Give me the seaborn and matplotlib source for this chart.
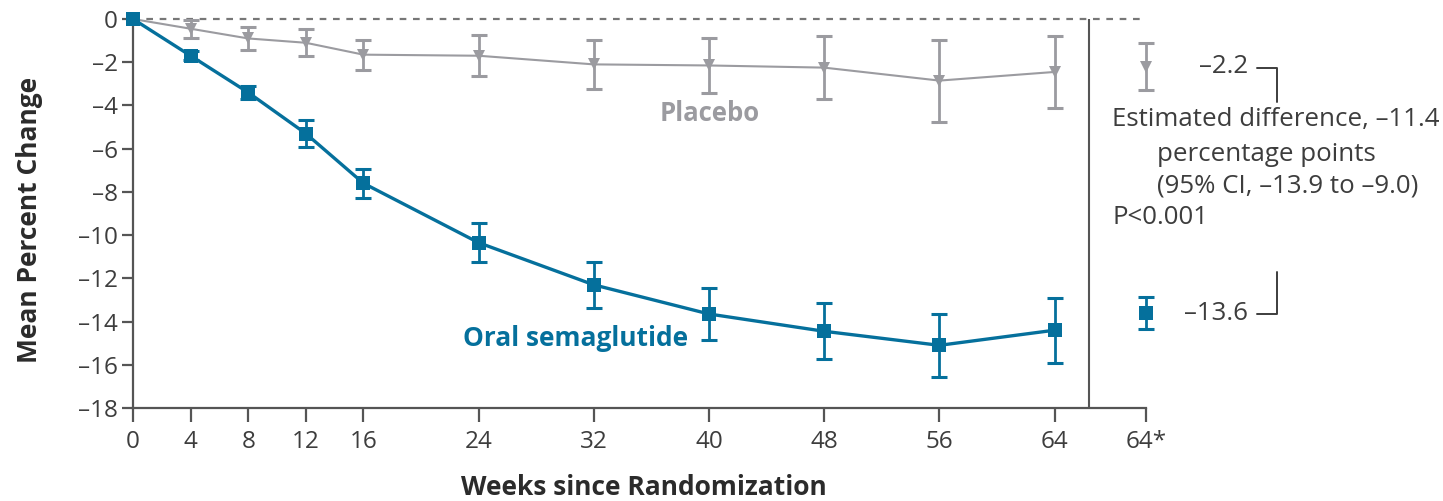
import numpy as np
import pandas as pd
import matplotlib
matplotlib.use("Agg")
import matplotlib.pyplot as plt
import seaborn as sns

# ---- data ----
weeks = [0, 4, 8, 12, 16, 24, 32, 40, 48, 56, 64]
sema_mean = [0, -1.7, -3.4, -5.3, -7.6, -10.35, -12.3, -13.65, -14.45, -15.1, -14.4]
sema_err = [0, 0.2, 0.3, 0.62, 0.67, 0.9, 1.07, 1.2, 1.3, 1.45, 1.5]
plac_mean = [0, -0.45, -0.9, -1.1, -1.65, -1.7, -2.1, -2.15, -2.25, -2.85, -2.45]
plac_err = [0, 0.42, 0.52, 0.63, 0.7, 0.95, 1.12, 1.26, 1.45, 1.9, 1.65]
est_labels = ["Oral semaglutide", "Placebo"]
est_mean = [-13.6, -2.2]
est_err = [0.73, 1.07]
xtick_vals = [0, 4, 8, 12, 16, 24, 32, 40, 48, 56, 64]
xtick_labels = ["0", "4", "8", "12", "16", "24", "32", "40", "48", "56", "64"]
star_label = "64*"
ytick_vals = [0, -2, -4, -6, -8, -10, -12, -14, -16, -18]

BLUE = "#05709c"
GRAY = "#9b9ba0"
AX = "#555555"
TXT = "#3d3d3d"
FONT = "Open Sans"
DASH = "\u2013"

sns.set_theme(style="ticks")
plt.rcParams["font.family"] = [FONT, "DejaVu Sans"]

df = pd.DataFrame({
    "week": weeks * 2,
    "change": sema_mean + plac_mean,
    "err": sema_err + plac_err,
    "group": ["Oral semaglutide"] * len(weeks) + ["Placebo"] * len(weeks),
})
est_df = pd.DataFrame({"group": est_labels, "change": est_mean, "err": est_err})

STAR_X = 70.35
SEP_X = 66.4
XMAX = 71.0
PX_PER_WEEK = 1013 / STAR_X

fig = plt.figure(figsize=(14.43, 5.01), dpi=100)
ax = fig.add_axes([133 / 1443, 93 / 501, PX_PER_WEEK * XMAX / 1443, 389 / 501])

# zero reference line
ax.hlines(0, 0, STAR_X, color="#777777", lw=1.6, ls=(0, (3, 3)), zorder=0,
          clip_on=False)

sns.lineplot(data=df[df.group == "Placebo"], x="week", y="change", ax=ax,
             color=GRAY, lw=1.5, marker="v", markersize=9, markeredgewidth=0,
             legend=False, clip_on=False, zorder=3)
sns.lineplot(data=df[df.group == "Oral semaglutide"], x="week", y="change", ax=ax,
             color=BLUE, lw=2.4, marker="s", markersize=10, markeredgewidth=0,
             legend=False, clip_on=False, zorder=4)

for g, col in [("Placebo", GRAY), ("Oral semaglutide", BLUE)]:
    sub = df[(df.group == g) & (df.week > 0)]
    eb = ax.errorbar(sub.week, sub.change, yerr=sub.err, fmt="none", ecolor=col,
                     elinewidth=2.0, capsize=5.5, capthick=2.2, zorder=3)
    for art in list(eb.lines[1]) + list(eb.lines[2]):
        art.set_clip_on(False)

# estimates at week 64*
for _, row in est_df.iterrows():
    is_sema = row.group.startswith("Oral")
    col = BLUE if is_sema else GRAY
    ax.errorbar([STAR_X], [row.change], yerr=[row.err], fmt="none", ecolor=col,
                elinewidth=2.0, capsize=5.5, capthick=2.2, zorder=4)
    ax.plot([STAR_X], [row.change], ls="none", marker="s" if is_sema else "v",
            markersize=10 if is_sema else 9, color=col, markeredgewidth=0,
            zorder=5, clip_on=False)

# separator
ax.axvline(SEP_X, color=AX, lw=1.5, zorder=2)

ax.set_xlim(0, XMAX)
ax.set_ylim(-18, 0)
ax.set_xticks(xtick_vals + [STAR_X])
ax.set_xticklabels(xtick_labels + [star_label])
ax.set_yticks(ytick_vals)
ax.set_yticklabels([(DASH + str(-v)) if v < 0 else "0" for v in ytick_vals])

for s in ["top", "right"]:
    ax.spines[s].set_visible(False)
for s in ["left", "bottom"]:
    ax.spines[s].set_color(AX)
    ax.spines[s].set_linewidth(1.6)
ax.spines["bottom"].set_bounds(0, STAR_X)
ax.tick_params(axis="both", colors=AX, width=1.6, labelsize=17.5,
               labelcolor=TXT)
ax.tick_params(axis="x", length=10, pad=6)
ax.tick_params(axis="y", length=8, pad=3)

ax.set_xlabel("Weeks since Randomization", fontsize=19, fontweight="bold",
              color="#2b2b2b", labelpad=14)
ax.set_ylabel("Mean Percent Change", fontsize=19, fontweight="bold",
              color="#2b2b2b")
ax.yaxis.set_label_coords(-0.088, 0.483)

# series labels
ax.text(40.07, -4.35, "Placebo", color=GRAY, fontsize=18.5, fontweight="bold",
        ha="center", va="center")
ax.text(30.7, -14.77, "Oral semaglutide", color=BLUE, fontsize=19,
        fontweight="bold", ha="center", va="center")

# right-hand annotation
FS = 18.6
ax.text(74.0, -2.2, DASH + "2.2", fontsize=FS, color=TXT, ha="left",
        va="center", clip_on=False)
ax.text(73.0, -13.65, DASH + "13.6", fontsize=FS, color=TXT, ha="left",
        va="center", clip_on=False)
ax.plot([78.06, 79.44, 79.44], [-2.25, -2.25, -3.85], color=TXT, lw=1.4,
        clip_on=False)
ax.plot([78.06, 79.44, 79.44], [-13.65, -13.65, -11.7], color=TXT, lw=1.4,
        clip_on=False)
ax.text(68.0, -4.65, "Estimated difference, " + DASH + "11.4", fontsize=FS,
        color=TXT, ha="left", va="center", clip_on=False)
ax.text(71.1, -6.25, "percentage points", fontsize=FS, color=TXT,
        ha="left", va="center", clip_on=False)
ax.text(71.1, -7.75, "(95% CI, " + DASH + "13.9 to " + DASH + "9.0)",
        fontsize=FS, color=TXT, ha="left", va="center", clip_on=False)
ax.text(68.0, -9.2, "P<0.001", fontsize=FS, color=TXT, ha="left",
        va="center", clip_on=False)

fig.savefig("out.png", dpi=100)
